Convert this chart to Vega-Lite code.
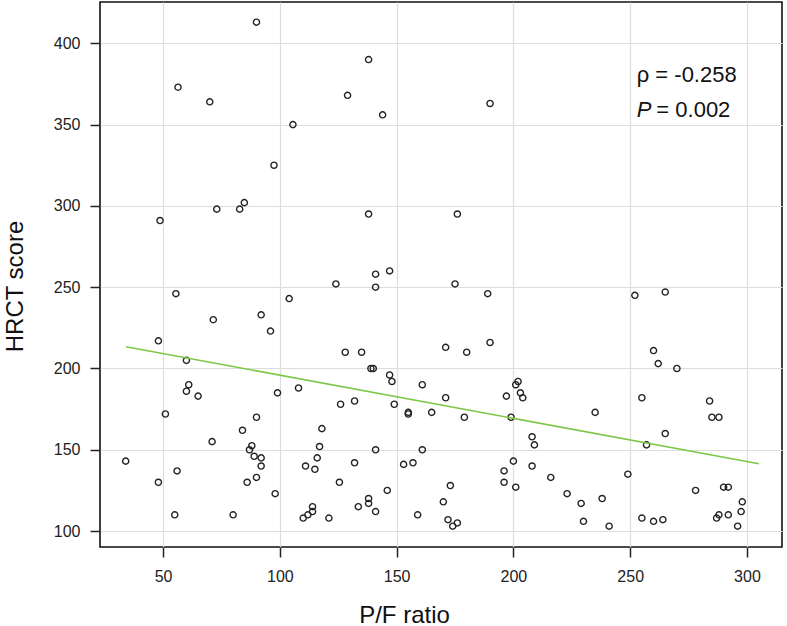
{
  "$schema": "https://vega.github.io/schema/vega-lite/v6.json",
  "width": 682,
  "height": 545,
  "autosize": {"type": "none"},
  "padding": {"left": 100, "top": 2, "right": 5, "bottom": 79},
  "background": "white",
  "config": {
    "view": {"stroke": "#111", "strokeWidth": 1.6},
    "font": "Liberation Sans",
    "axis": {
      "labelFont": "Liberation Sans",
      "titleFont": "Liberation Sans",
      "labelFontSize": 16,
      "labelColor": "#222",
      "titleFontSize": 24,
      "titleFontWeight": "normal",
      "titleColor": "#111",
      "domain": false,
      "tickSize": 10,
      "tickColor": "#222",
      "tickWidth": 1.5,
      "grid": true,
      "gridColor": "#dddddd",
      "gridWidth": 1.2,
      "labelPadding": 10
    }
  },
  "datasets": {
    "points": [
      {"pf": 90, "hrct": 413}, {"pf": 56.4, "hrct": 373}, {"pf": 70, "hrct": 364}, {"pf": 138, "hrct": 390},
      {"pf": 129, "hrct": 368}, {"pf": 144, "hrct": 356}, {"pf": 105.6, "hrct": 350}, {"pf": 97.5, "hrct": 325},
      {"pf": 48.7, "hrct": 291}, {"pf": 73, "hrct": 298}, {"pf": 82.8, "hrct": 298}, {"pf": 84.8, "hrct": 302},
      {"pf": 138, "hrct": 295}, {"pf": 124, "hrct": 252}, {"pf": 141, "hrct": 258}, {"pf": 147, "hrct": 260},
      {"pf": 141, "hrct": 250}, {"pf": 55.5, "hrct": 246}, {"pf": 104, "hrct": 243}, {"pf": 92, "hrct": 233},
      {"pf": 71.5, "hrct": 230}, {"pf": 190, "hrct": 363}, {"pf": 176, "hrct": 295}, {"pf": 175, "hrct": 252},
      {"pf": 189, "hrct": 246}, {"pf": 252, "hrct": 245}, {"pf": 265, "hrct": 247},
      {"pf": 34, "hrct": 143}, {"pf": 48, "hrct": 217}, {"pf": 96, "hrct": 223}, {"pf": 128, "hrct": 210},
      {"pf": 135, "hrct": 210}, {"pf": 139, "hrct": 200}, {"pf": 140, "hrct": 200}, {"pf": 147, "hrct": 196},
      {"pf": 148, "hrct": 192}, {"pf": 149, "hrct": 178}, {"pf": 60, "hrct": 205}, {"pf": 61, "hrct": 190},
      {"pf": 60, "hrct": 186}, {"pf": 65, "hrct": 183}, {"pf": 51, "hrct": 172}, {"pf": 71, "hrct": 155},
      {"pf": 48, "hrct": 130}, {"pf": 56, "hrct": 137}, {"pf": 55, "hrct": 110}, {"pf": 80, "hrct": 110},
      {"pf": 84, "hrct": 162}, {"pf": 90, "hrct": 170}, {"pf": 88, "hrct": 152.5}, {"pf": 87, "hrct": 150},
      {"pf": 89, "hrct": 146}, {"pf": 92, "hrct": 145}, {"pf": 92, "hrct": 140}, {"pf": 86, "hrct": 130},
      {"pf": 90, "hrct": 133}, {"pf": 98, "hrct": 123}, {"pf": 99, "hrct": 185}, {"pf": 108, "hrct": 188},
      {"pf": 118, "hrct": 163}, {"pf": 117, "hrct": 152}, {"pf": 116, "hrct": 145}, {"pf": 115, "hrct": 138},
      {"pf": 111, "hrct": 140}, {"pf": 114, "hrct": 115}, {"pf": 114, "hrct": 112}, {"pf": 112, "hrct": 110},
      {"pf": 110, "hrct": 108}, {"pf": 121, "hrct": 108}, {"pf": 125.5, "hrct": 130}, {"pf": 126, "hrct": 178},
      {"pf": 132, "hrct": 180}, {"pf": 132, "hrct": 142}, {"pf": 133.6, "hrct": 115}, {"pf": 138, "hrct": 120},
      {"pf": 138, "hrct": 117}, {"pf": 141, "hrct": 112}, {"pf": 141, "hrct": 150}, {"pf": 146, "hrct": 125},
      {"pf": 155, "hrct": 173}, {"pf": 155, "hrct": 172}, {"pf": 161, "hrct": 190}, {"pf": 165, "hrct": 173},
      {"pf": 171, "hrct": 213}, {"pf": 171, "hrct": 182}, {"pf": 180, "hrct": 210}, {"pf": 190, "hrct": 216},
      {"pf": 179, "hrct": 170}, {"pf": 161, "hrct": 150}, {"pf": 153, "hrct": 141}, {"pf": 157, "hrct": 142},
      {"pf": 159, "hrct": 110}, {"pf": 173, "hrct": 128}, {"pf": 170, "hrct": 118}, {"pf": 172, "hrct": 107},
      {"pf": 174, "hrct": 103}, {"pf": 176, "hrct": 105}, {"pf": 197, "hrct": 183}, {"pf": 201, "hrct": 190},
      {"pf": 202, "hrct": 192}, {"pf": 203, "hrct": 185}, {"pf": 204, "hrct": 182}, {"pf": 199, "hrct": 170},
      {"pf": 208, "hrct": 158}, {"pf": 209, "hrct": 153}, {"pf": 208, "hrct": 140}, {"pf": 200, "hrct": 143},
      {"pf": 196, "hrct": 137}, {"pf": 196, "hrct": 130}, {"pf": 201, "hrct": 127}, {"pf": 216, "hrct": 133},
      {"pf": 223, "hrct": 123}, {"pf": 229, "hrct": 117}, {"pf": 230, "hrct": 106}, {"pf": 235, "hrct": 173},
      {"pf": 238, "hrct": 120}, {"pf": 241, "hrct": 103}, {"pf": 249, "hrct": 135}, {"pf": 255, "hrct": 182},
      {"pf": 260, "hrct": 211}, {"pf": 262, "hrct": 203}, {"pf": 270, "hrct": 200}, {"pf": 257, "hrct": 153},
      {"pf": 265, "hrct": 160}, {"pf": 255, "hrct": 108}, {"pf": 260, "hrct": 106}, {"pf": 264, "hrct": 107},
      {"pf": 278, "hrct": 125}, {"pf": 284, "hrct": 180}, {"pf": 285, "hrct": 170}, {"pf": 288, "hrct": 170},
      {"pf": 290, "hrct": 127}, {"pf": 292, "hrct": 127}, {"pf": 287, "hrct": 108}, {"pf": 288, "hrct": 110},
      {"pf": 292, "hrct": 110}, {"pf": 298, "hrct": 118}, {"pf": 297.5, "hrct": 112}, {"pf": 296, "hrct": 103}
    ],
    "fit": [
      {"pf": 34.1, "hrct": 213.4},
      {"pf": 305.1, "hrct": 141.4}
    ],
    "normalText": [
      {"pf": 252.8, "hrct": 376.3, "label": "ρ = -0.258"},
      {"pf": 261.2, "hrct": 354.8, "label": "= 0.002"}
    ],
    "italicText": [
      {"pf": 252.8, "hrct": 354.8, "label": "P"}
    ]
  },
  "encoding": {
    "x": {
      "field": "pf",
      "type": "quantitative",
      "scale": {"domain": [23, 315], "nice": false, "zero": false},
      "axis": {
        "values": [50, 100, 150, 200, 250, 300],
        "title": "P/F ratio",
        "titleX": 304,
        "titleY": 75,
        "titleAlign": "center",
        "titleBaseline": "alphabetic",
        "labelPadding": 11
      }
    },
    "y": {
      "field": "hrct",
      "type": "quantitative",
      "scale": {"domain": [90.2, 425.4], "nice": false, "zero": false},
      "axis": {
        "values": [100, 150, 200, 250, 300, 350, 400],
        "title": "HRCT score",
        "titleX": -78,
        "titleY": 284,
        "titleAngle": -90,
        "titleAlign": "center",
        "titleBaseline": "alphabetic",
        "labelPadding": 10
      }
    }
  },
  "layer": [
    {
      "data": {"name": "points"},
      "mark": {"type": "point", "shape": "circle", "filled": false, "size": 38, "stroke": "#222", "strokeWidth": 1.4, "opacity": 1}
    },
    {
      "data": {"name": "fit"},
      "mark": {"type": "line", "color": "#7cc846", "strokeWidth": 1.6}
    },
    {
      "data": {"name": "normalText"},
      "mark": {"type": "text", "align": "left", "baseline": "alphabetic", "fontSize": 22, "font": "Liberation Sans", "color": "#111"},
      "encoding": {"text": {"field": "label"}}
    },
    {
      "data": {"name": "italicText"},
      "mark": {"type": "text", "align": "left", "baseline": "alphabetic", "fontSize": 22, "font": "Liberation Sans", "fontStyle": "italic", "color": "#111"},
      "encoding": {"text": {"field": "label"}}
    }
  ]
}
